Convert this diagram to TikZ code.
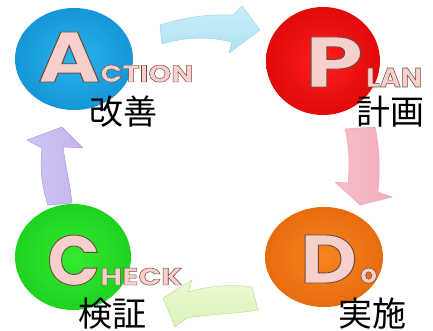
\documentclass[tikz,border=0pt]{standalone}
\usepackage{fontspec}
\usepackage{graphicx}
\newfontfamily\cjk{Noto Sans CJK JP}
\newfontfamily\deco{Poppins}
\definecolor{letterpink}{HTML}{F7D0CC}
\newcommand{\decoword}[2]{\textcolor{letterpink}{\special{pdf:code q 2 Tr #2 w 0.43 0.29 0.24 RG}#1\special{pdf:code Q}}}
\tikzset{
  blockarrow/.style={line width=0.5pt, line join=round},
  label/.style={font=\cjk\fontsize{34}{38}\selectfont, text=black, inner sep=0pt, anchor=base},
  deco/.style={inner sep=0pt, anchor=base west, font=\deco\bfseries}
}
\begin{document}
\begin{tikzpicture}[x=1pt,y=-1pt]
\useasboundingbox (0,0) rectangle (433,331);
\fill[white] (0,0) rectangle (433,331);
% discs
\shade[inner color={rgb,255:red,40;green,180;blue,238}, outer color={rgb,255:red,22;green,150;blue,215}] (74,59) ellipse [x radius=59, y radius=51];
\shade[inner color={rgb,255:red,255;green,30;blue,30}, outer color={rgb,255:red,225;green,10;blue,10}] (323,61) ellipse [x radius=57, y radius=54];
\shade[inner color={rgb,255:red,50;green,236;blue,50}, outer color={rgb,255:red,30;green,210;blue,30}] (73,257) ellipse [x radius=58, y radius=53];
\shade[inner color={rgb,255:red,248;green,132;blue,32}, outer color={rgb,255:red,232;green,108;blue,12}] (324,257) ellipse [x radius=59, y radius=50];
% arrows
\shade[blockarrow, draw={rgb,255:red,160;green,212;blue,232}, top color={rgb,255:red,200;green,238;blue,250}, bottom color={rgb,255:red,178;green,226;blue,244}]
  (160,25) .. controls (190,16) and (212,14) .. (233,15) -- (242,6) -- (260,30) -- (229,53) -- (232,42)
  .. controls (208,36) and (185,37) .. (162,44) -- cycle;
\shade[blockarrow, draw={rgb,255:red,232;green,170;blue,182}, left color={rgb,255:red,246;green,190;blue,200}, right color={rgb,255:red,244;green,172;blue,188}]
  (345,129) -- (375,127) .. controls (380,150) and (380,172) .. (378,192) -- (392,197) -- (360,205) -- (335,182) -- (348,183)
  .. controls (350,165) and (349,145) .. cycle;
\shade[blockarrow, draw={rgb,255:red,190;green,222;blue,160}, top color={rgb,255:red,234;green,250;blue,210}, bottom color={rgb,255:red,218;green,242;blue,184}]
  (252,287) .. controls (232,284) and (208,286) .. (188,292) -- (192,280) -- (163,298) -- (175,327) -- (187,318)
  .. controls (210,314) and (235,314) .. (258,310) -- cycle;
\shade[blockarrow, draw={rgb,255:red,170;green,155;blue,215}, left color={rgb,255:red,210;green,196;blue,244}, right color={rgb,255:red,196;green,180;blue,238}]
  (48,205) .. controls (41,185) and (40,165) .. (42,148) -- (27,140) -- (62,127) -- (83,148) -- (63,147)
  .. controls (66,168) and (70,185) .. (72,203) -- cycle;
% decorative words
\node[deco] (bigA) at (38,82) {\resizebox{62pt}{50pt}{\fontsize{70}{70}\selectfont\decoword{A}{0.9}}};
\node[deco] (ction) at (100,82) {\resizebox{93pt}{17pt}{\fontsize{24}{24}\selectfont\decoword{CTION}{0.45}}};
\node[deco] (bigP) at (305,87) {\resizebox{58pt}{50pt}{\fontsize{70}{70}\selectfont\decoword{P}{0.9}}};
\node[deco] (lan) at (366,87) {\resizebox{56pt}{19pt}{\fontsize{24}{24}\selectfont\decoword{LAN}{0.45}}};
\node[deco] (bigC) at (47,285) {\resizebox{53pt}{50pt}{\fontsize{70}{70}\selectfont\decoword{C}{0.9}}};
\node[deco] (heck) at (100,285) {\resizebox{82pt}{17pt}{\fontsize{24}{24}\selectfont\decoword{HECK}{0.45}}};
\node[deco] (bigD) at (300,283) {\resizebox{57pt}{48pt}{\fontsize{70}{70}\selectfont\decoword{D}{0.9}}};
\node[deco] (smallo) at (360,283) {\resizebox{17pt}{15pt}{\fontsize{24}{24}\selectfont\decoword{o}{0.45}}};
% labels
\node[label] (kaizen) at (123,125) {改善};
\node[label] (keikaku) at (390,125) {計画};
\node[label] (kensho) at (112,326) {検証};
\node[label] (jisshi) at (372,326) {実施};
\end{tikzpicture}
\end{document}
